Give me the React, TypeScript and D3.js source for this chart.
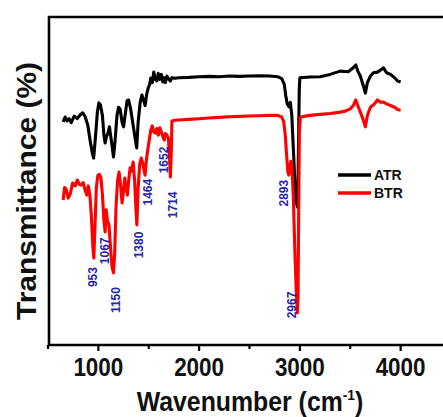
import React from 'react';
import * as d3 from 'd3';

// FTIR spectra, transmittance in arbitrary units (0-100 scale of the frame)
const atrWave = [650, 670, 690, 710, 730, 760, 790, 820, 845, 870, 895, 920, 940, 953, 970, 990, 1005, 1020, 1040, 1055, 1067, 1080, 1095, 1110, 1130, 1150, 1165, 1185, 1200, 1215, 1235, 1250, 1265, 1285, 1300, 1320, 1345, 1365, 1380, 1395, 1415, 1432, 1450, 1464, 1480, 1495, 1510, 1520, 1535, 1550, 1565, 1580, 1595, 1610, 1625, 1640, 1652, 1665, 1680, 1700, 1714, 1730, 1760, 1800, 1900, 2000, 2100, 2200, 2300, 2400, 2500, 2600, 2700, 2780, 2820, 2845, 2860, 2875, 2893, 2905, 2920, 2935, 2950, 2962, 2975, 2982, 2988, 2994, 3000, 3100, 3200, 3300, 3400, 3480, 3530, 3555, 3575, 3600, 3630, 3650, 3670, 3700, 3730, 3770, 3800, 3830, 3860, 3900, 3940, 3970, 4000];
const atrValues = [68.0, 69.5, 68.3, 69.0, 67.8, 69.8, 69.0, 70.2, 70.8, 69.5, 67.0, 62.0, 58.5, 57.0, 63.0, 71.0, 73.8, 73.2, 70.0, 64.0, 61.6, 63.5, 64.5, 66.5, 62.0, 57.3, 62.0, 70.0, 72.5, 72.0, 68.0, 66.5, 70.0, 74.5, 74.7, 72.0, 67.0, 63.0, 60.1, 68.0, 74.0, 76.2, 74.5, 73.0, 76.5, 78.4, 79.5, 81.4, 80.0, 83.2, 81.0, 80.5, 82.8, 81.0, 82.5, 80.2, 81.5, 80.0, 82.0, 81.0, 80.5, 81.5, 81.3, 81.5, 81.6, 81.8, 81.9, 81.8, 82.0, 81.9, 82.0, 82.1, 82.0, 81.8, 81.2, 79.5, 76.0, 73.5, 72.6, 74.0, 70.0, 60.0, 50.0, 44.0, 42.1, 50.0, 65.0, 78.0, 81.5, 81.7, 81.8, 82.5, 83.5, 83.3, 84.5, 85.4, 83.5, 82.0, 79.0, 76.8, 80.0, 82.0, 83.0, 83.2, 83.8, 84.5, 83.0, 82.5, 81.5, 80.5, 80.2];

const btrWave = [650, 665, 680, 700, 720, 745, 770, 790, 810, 830, 850, 870, 885, 900, 915, 930, 945, 955, 965, 980, 995, 1010, 1025, 1040, 1055, 1067, 1078, 1090, 1105, 1120, 1135, 1150, 1162, 1175, 1190, 1205, 1220, 1235, 1250, 1262, 1275, 1288, 1300, 1315, 1330, 1345, 1360, 1372, 1382, 1395, 1410, 1425, 1440, 1455, 1464, 1475, 1490, 1505, 1520, 1535, 1550, 1565, 1580, 1595, 1610, 1625, 1640, 1655, 1665, 1680, 1695, 1705, 1715, 1725, 1730, 1760, 1800, 1900, 2000, 2100, 2200, 2300, 2400, 2500, 2600, 2700, 2780, 2820, 2840, 2855, 2868, 2880, 2890, 2900, 2910, 2920, 2935, 2950, 2962, 2975, 2982, 2988, 2995, 3005, 3100, 3200, 3300, 3400, 3450, 3500, 3530, 3555, 3575, 3600, 3625, 3650, 3670, 3700, 3740, 3770, 3800, 3830, 3860, 3900, 3940, 3970, 4000];
const btrValues = [44.2, 48.0, 47.5, 44.8, 46.0, 49.4, 48.5, 50.3, 49.0, 48.8, 49.5, 47.0, 45.7, 48.5, 46.0, 39.6, 30.0, 26.5, 35.0, 48.0, 51.8, 52.0, 51.0, 46.0, 38.0, 34.5, 41.2, 38.0, 36.6, 30.0, 24.0, 22.0, 28.0, 42.0, 50.0, 52.7, 49.0, 43.3, 47.0, 50.9, 48.0, 45.7, 50.0, 54.0, 53.0, 55.8, 50.0, 42.0, 36.6, 48.0, 55.0, 57.0, 55.5, 53.0, 51.8, 56.0, 59.5, 62.5, 65.5, 66.8, 65.0, 64.6, 66.0, 64.0, 66.2, 65.0, 63.5, 62.5, 64.5, 64.0, 63.0, 58.0, 51.2, 60.0, 68.3, 68.5, 68.6, 68.8, 69.0, 69.2, 69.4, 69.6, 69.7, 69.8, 69.9, 70.0, 70.0, 69.5, 68.0, 64.0, 58.0, 53.0, 51.8, 54.0, 56.0, 54.9, 45.0, 29.0, 18.0, 9.8, 15.0, 40.0, 65.0, 69.5, 70.0, 70.3, 70.6, 71.0, 71.3, 72.0, 73.0, 74.7, 73.0, 71.0, 69.0, 66.5, 70.0, 72.5, 73.5, 74.7, 74.0, 74.1, 73.5, 73.0, 72.5, 71.8, 71.6];

const peakLabels = ['953', '1067', '1150', '1380', '1464', '1652', '1714', '2893', '2967'];
const xTicks = [1000, 2000, 3000, 4000];
const minorTicks = [500, 1500, 2500, 3500];
const seriesNames = ['ATR', 'BTR'];
const seriesColors = ['#000000', '#ff0000'];

// where each peak label sits (pixel nudge in x, centre value in y)
const labelDx = [-1, 0, 2, 2, 3, 0, 2, -5, -5];
const labelLevel = [20.7, 28.7, 13.7, 30.5, 46.6, 56.4, 42.7, 46.3, 12.2];

const W = 443;
const H = 417;
const margin = { left: 49, top: 17, bottom: 72 };

export default function App() {
  const x = d3.scaleLinear().domain([500, 4500]).range([48, 451]);
  const y = d3.scaleLinear().domain([0, 100]).range([H - margin.bottom, margin.top]);

  const line = d3.line<[number, number]>()
    .x(d => x(d[0]))
    .y(d => y(d[1]));

  const atr = atrWave.map((w, i) => [w, atrValues[i]] as [number, number]);
  const btr = btrWave.map((w, i) => [w, btrValues[i]] as [number, number]);

  const bottom = y(0);
  const font = 'Liberation Sans, Arial, sans-serif';

  return (
    <svg width={W} height={H} style={{ position: 'absolute', left: 0, top: 0, background: '#fff' }}>
      {/* spectra */}
      <path d={line(atr) || ''} fill="none" stroke={seriesColors[0]} strokeWidth={3.1} strokeLinejoin="round" />
      <path d={line(btr) || ''} fill="none" stroke={seriesColors[1]} strokeWidth={3.1} strokeLinejoin="round" />

      {/* frame */}
      <path d={`M${W + 5},${y(100)}H${margin.left}V${bottom}H${W + 5}`} fill="none" stroke="#000" strokeWidth={2.6} />

      {/* x ticks */}
      {xTicks.map(t => (
        <g key={t} transform={`translate(${x(t)},${bottom})`}>
          <line y2={6} stroke="#000" strokeWidth={2.2} />
          <text y={31} textAnchor="middle" fontFamily={font} fontWeight="bold" fontSize={25}
            textLength={50} lengthAdjust="spacingAndGlyphs" fill="#111">{t}</text>
        </g>
      ))}
      {minorTicks.map(t => (
        <line key={t} x1={x(t)} x2={x(t)} y1={bottom} y2={bottom + 4} stroke="#000" strokeWidth={2.2} />
      ))}

      {/* axis titles */}
      <text transform="translate(250,411) scale(0.92,1)" textAnchor="middle" fontFamily={font} fontWeight="bold" fontSize={27} fill="#111">
        Wavenumber (cm<tspan fontSize={15} dy={-11}>-1</tspan><tspan dy={11}>)</tspan>
      </text>
      <text transform={`translate(36,${191}) rotate(-90)`} textAnchor="middle" fontFamily={font} fontWeight="bold"
        fontSize={28} textLength={258} lengthAdjust="spacingAndGlyphs" fill="#111">Transmittance (%)</text>

      {/* peak labels */}
      {peakLabels.map((p, i) => (
        <text key={p} transform={`translate(${x(+p) + labelDx[i]},${y(labelLevel[i])}) rotate(-90)`}
          textAnchor="middle" dy="0.35em" fontFamily={font} fontWeight="bold" fontSize={12} fill="#2626a6">{p}</text>
      ))}

      {/* legend */}
      {seriesNames.map((s, i) => (
        <g key={s} transform={`translate(338,${175 + i * 18})`}>
          <line x1={0} x2={33} stroke={seriesColors[i]} strokeWidth={3.5} />
          <text x={36} y={5} fontFamily={font} fontWeight="bold" fontSize={14} fill="#111">{s}</text>
        </g>
      ))}
    </svg>
  );
}
